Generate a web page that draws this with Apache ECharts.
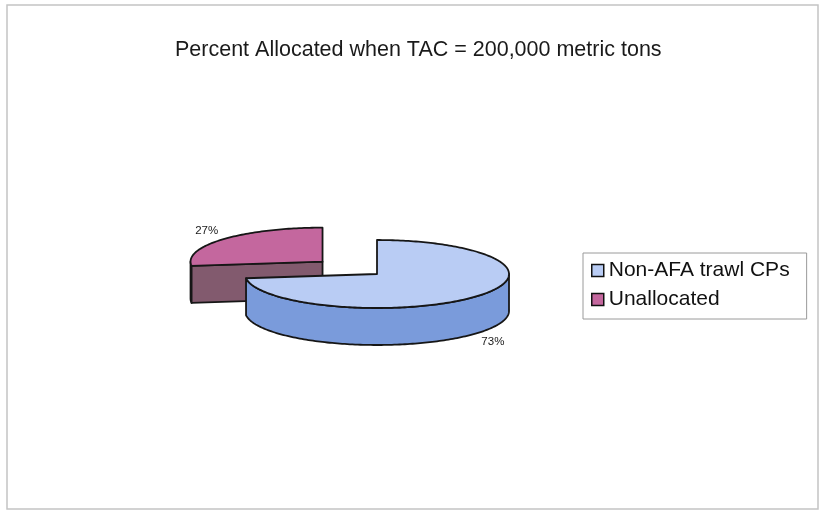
<!DOCTYPE html>
<html>
<head>
<meta charset="utf-8">
<script src="https://cdn.jsdelivr.net/npm/echarts@6/dist/echarts.min.js"></script>
<style>
  html, body { margin: 0; padding: 0; background: #fff; }
  #chart { width: 820px; height: 512px; }
</style>
</head>
<body>
<div id="chart"></div>
<script>
// slice data, clockwise from 12 o'clock
const categories = ['Non-AFA trawl CPs', 'Unallocated'];
const values = [73, 27];
const labels = ['73%', '27%'];
const explode = [0, 0.55];

const topColors = ['#b9ccf4', '#c4679e'];
const sideColors = ['#7a9bdb', '#825a6e'];

const chart = echarts.init(document.getElementById('chart'));
const total = values.reduce((a, b) => a + b, 0);

// fake 3d pie geometry (Excel style, tilted)
const cx = 377, cy = 274, rx = 132, ry = 34, depth = 37;

function pt(c, a, dy) {
    return [c[0] + rx * Math.sin(a), c[1] - ry * Math.cos(a) + (dy || 0)];
}

function arc(c, a0, a1, dy) {
    const n = Math.max(2, Math.ceil((a1 - a0) / 0.02));
    const pts = [];
    for (let k = 0; k <= n; k++) {
        pts.push(pt(c, a0 + (a1 - a0) * k / n, dy));
    }
    return pts;
}

function renderSlice(i) {
    return function (params, api) {
        let before = 0;
        for (let j = 0; j < i; j++) before += values[j];
        const start = before / total * Math.PI * 2;
        const end = start + api.value(0) / total * Math.PI * 2;
        const mid = (start + end) / 2;
        const c = [cx + explode[i] * rx * Math.sin(mid), cy - explode[i] * ry * Math.cos(mid)];
        const line = { stroke: '#161616', lineWidth: 1.8, lineJoin: 'round' };
        const children = [];

        // outer wall, front half only
        const a = Math.max(start, Math.PI / 2), b = Math.min(end, Math.PI * 1.5);
        if (b > a) {
            children.push({
                type: 'polygon',
                shape: { points: arc(c, a, b, 0).concat(arc(c, a, b, depth).reverse()) },
                style: Object.assign({ fill: sideColors[i] }, line)
            });
        }
        // cut faces facing the viewer
        if (Math.sin(start) < -1e-6) {
            const p = pt(c, start, 0);
            children.push({
                type: 'polygon',
                shape: { points: [c, p, [p[0], p[1] + depth], [c[0], c[1] + depth]] },
                style: Object.assign({ fill: sideColors[i] }, line)
            });
        }
        if (Math.sin(end) > 1e-6) {
            const p = pt(c, end, 0);
            children.push({
                type: 'polygon',
                shape: { points: [c, p, [p[0], p[1] + depth], [c[0], c[1] + depth]] },
                style: Object.assign({ fill: sideColors[i] }, line)
            });
        }
        // top face
        children.push({
            type: 'polygon',
            shape: { points: [c].concat(arc(c, start, end, 0)) },
            style: Object.assign({ fill: topColors[i] }, line)
        });
        // percent label
        const lx = c[0] + 1.17 * rx * Math.sin(mid);
        const ly = c[1] - 1.37 * ry * Math.cos(mid) + (Math.cos(mid) < 0 ? depth : 0);
        children.push({
            type: 'text',
            x: lx, y: ly,
            style: {
                text: labels[i],
                fill: '#1a1a1a',
                font: '11.5px "Liberation Sans", Arial, sans-serif',
                align: 'center',
                verticalAlign: 'middle'
            }
        });
        return { type: 'group', children: children };
    };
}

const option = {
    backgroundColor: '#fff',
    animation: false,
    title: {
        text: 'Percent Allocated when TAC = 200,000 metric tons',
        left: 170,
        top: 34,
        textStyle: {
            fontFamily: '"Liberation Sans", Arial, sans-serif',
            fontSize: 21.5,
            fontWeight: 'normal',
            color: '#1a1a1a'
        }
    },
    legend: {
        orient: 'vertical',
        left: 583,
        top: 253,
        data: categories,
        icon: 'rect',
        itemWidth: 12,
        itemHeight: 12,
        itemGap: 8,
        padding: [7, 17, 9, 8],
        borderColor: '#9a9a9a',
        borderWidth: 1,
        itemStyle: { borderColor: '#111', borderWidth: 1.5 },
        textStyle: {
            fontFamily: '"Liberation Sans", Arial, sans-serif',
            fontSize: 21,
            color: '#111',
            padding: [0, 0, 0, 0]
        }
    },
    graphic: [{
        type: 'rect',
        shape: { x: 7, y: 5, width: 811, height: 504 },
        style: { fill: 'none', stroke: '#c4c4c4', lineWidth: 1.5 },
        silent: true
    }],
    series: categories.map((name, i) => ({
        type: 'custom',
        name: name,
        coordinateSystem: 'none',
        z: i === 0 ? 3 : 2,
        itemStyle: { color: topColors[i] },
        data: [[values[i]]],
        renderItem: renderSlice(i)
    }))
};

chart.setOption(option);
</script>
</body>
</html>
